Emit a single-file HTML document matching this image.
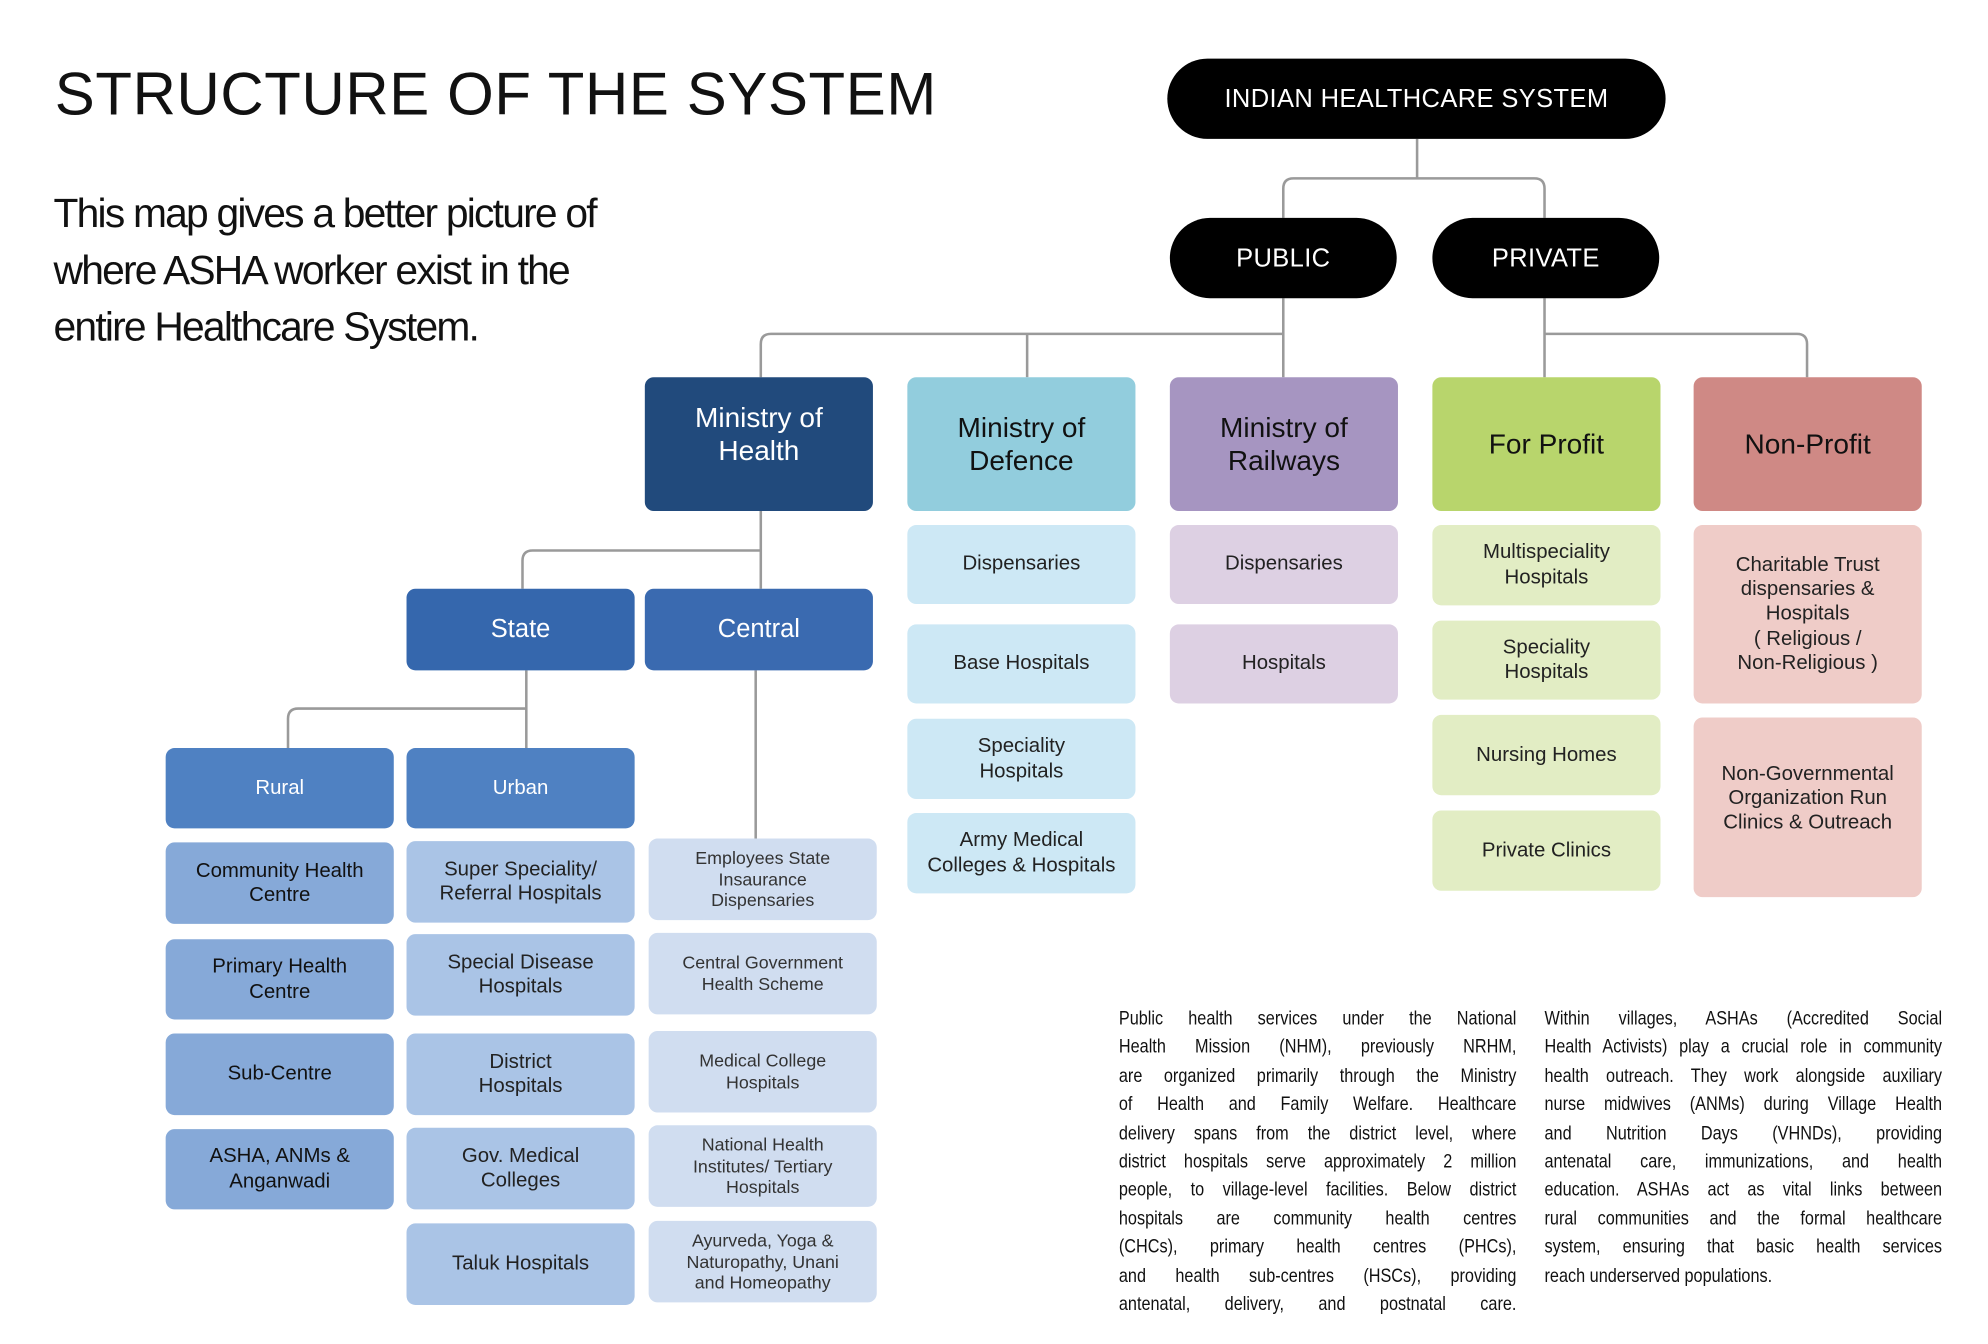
<!DOCTYPE html>
<html><head><meta charset="utf-8"><style>
html,body{margin:0;padding:0;background:#fff;}
body{width:1988px;height:1344px;overflow:hidden;position:relative;font-family:"Liberation Sans",Arial,sans-serif;}
#w{position:absolute;left:0;top:0;width:1560px;height:1055px;transform:scale(1.27436);transform-origin:0 0;}
.b{position:absolute;display:flex;align-items:center;justify-content:center;text-align:center;box-sizing:border-box;border-radius:7px;line-height:1.2;}
.blk{background:#000;color:#fff;border-radius:32px;font-size:20px;letter-spacing:0.3px;}
.l2{font-size:22px;line-height:1.18;}
.t{font-size:16px;color:#222;line-height:1.2;}
.s{font-size:14px;color:#333;line-height:1.2;}
.par{position:absolute;top:789px;width:367px;transform:scaleX(0.85);transform-origin:0 0;font-size:15px;line-height:22.4px;color:#111;}
.par div{text-align:justify;text-align-last:justify;white-space:nowrap;}
</style></head><body><div id="w">
<div style="position:absolute;left:43px;top:46px;font-size:47px;color:#111;letter-spacing:0.5px;white-space:nowrap;">STRUCTURE OF THE SYSTEM</div>
<div style="position:absolute;left:42px;top:145px;font-size:32px;line-height:44.6px;color:#111;letter-spacing:-1.4px;white-space:nowrap;">This map gives a better picture of<br>where ASHA worker exist in the<br>entire Healthcare System.</div>

<svg style="position:absolute;left:0;top:0" width="1560" height="1055" fill="none" stroke="#9a9a9a" stroke-width="2">
<path d="M1112 109V140"/>
<path d="M1007 171V148Q1007 140 1015 140H1204Q1212 140 1212 148V171"/>
<path d="M1007 234V296"/>
<path d="M597 296V270Q597 262 605 262H1007"/>
<path d="M806 262V296"/>
<path d="M1212 234V296"/>
<path d="M1212 262H1410Q1418 262 1418 270V296"/>
<path d="M597 401V462"/>
<path d="M410 462V440Q410 432 418 432H597"/>
<path d="M413 526V587"/>
<path d="M226 587V564Q226 556 234 556H413"/>
<path d="M593 526V658"/>
</svg>

<div class="b blk" style="left:916px;top:46px;width:391px;height:63px;">INDIAN HEALTHCARE SYSTEM</div>
<div class="b blk" style="left:918px;top:171px;width:178px;height:63px;">PUBLIC</div>
<div class="b blk" style="left:1124px;top:171px;width:178px;height:63px;">PRIVATE</div>

<div class="b l2" style="left:506px;top:296px;width:179px;height:105px;background:#214a7c;color:#fff;padding-bottom:16px;">Ministry of<br>Health</div>
<div class="b l2" style="left:712px;top:296px;width:179px;height:105px;background:#92cddd;color:#111;">Ministry of<br>Defence</div>
<div class="b l2" style="left:918px;top:296px;width:179px;height:105px;background:#a695c1;color:#111;">Ministry of<br>Railways</div>
<div class="b l2" style="left:1124px;top:296px;width:179px;height:105px;background:#b8d56c;color:#111;">For Profit</div>
<div class="b l2" style="left:1329px;top:296px;width:179px;height:105px;background:#cf8985;color:#111;">Non-Profit</div>

<div class="b t" style="left:712px;top:412px;width:179px;height:62px;background:#cde8f5;">Dispensaries</div>
<div class="b t" style="left:712px;top:490px;width:179px;height:62px;background:#cde8f5;">Base Hospitals</div>
<div class="b t" style="left:712px;top:564px;width:179px;height:63px;background:#cde8f5;">Speciality<br>Hospitals</div>
<div class="b t" style="left:712px;top:638px;width:179px;height:63px;background:#cde8f5;">Army Medical<br>Colleges &amp; Hospitals</div>

<div class="b t" style="left:918px;top:412px;width:179px;height:62px;background:#ddd0e3;">Dispensaries</div>
<div class="b t" style="left:918px;top:490px;width:179px;height:62px;background:#ddd0e3;">Hospitals</div>

<div class="b t" style="left:1124px;top:412px;width:179px;height:63px;background:#e2edc4;">Multispeciality<br>Hospitals</div>
<div class="b t" style="left:1124px;top:487px;width:179px;height:62px;background:#e2edc4;">Speciality<br>Hospitals</div>
<div class="b t" style="left:1124px;top:561px;width:179px;height:63px;background:#e2edc4;">Nursing Homes</div>
<div class="b t" style="left:1124px;top:636px;width:179px;height:63px;background:#e2edc4;">Private Clinics</div>

<div class="b t" style="left:1329px;top:412px;width:179px;height:140px;background:#efccc8;">Charitable Trust<br>dispensaries &amp;<br>Hospitals<br>( Religious /<br>Non-Religious )</div>
<div class="b t" style="left:1329px;top:563px;width:179px;height:141px;background:#efccc8;padding-bottom:14px;">Non-Governmental<br>Organization Run<br>Clinics &amp; Outreach</div>

<div class="b" style="left:319px;top:462px;width:179px;height:64px;background:#3567ad;color:#fff;font-size:20px;">State</div>
<div class="b" style="left:506px;top:462px;width:179px;height:64px;background:#3a6ab0;color:#fff;font-size:20px;">Central</div>
<div class="b" style="left:130px;top:587px;width:179px;height:63px;background:#4f81c2;color:#fff;font-size:16px;">Rural</div>
<div class="b" style="left:319px;top:587px;width:179px;height:63px;background:#4f81c2;color:#fff;font-size:16px;">Urban</div>

<div class="b t" style="left:130px;top:661px;width:179px;height:64px;background:#86a9d8;color:#111;">Community Health<br>Centre</div>
<div class="b t" style="left:130px;top:737px;width:179px;height:63px;background:#86a9d8;color:#111;">Primary Health<br>Centre</div>
<div class="b t" style="left:130px;top:811px;width:179px;height:64px;background:#86a9d8;color:#111;">Sub-Centre</div>
<div class="b t" style="left:130px;top:886px;width:179px;height:63px;background:#86a9d8;color:#111;">ASHA, ANMs &amp;<br>Anganwadi</div>

<div class="b t" style="left:319px;top:660px;width:179px;height:64px;background:#aac4e6;">Super Speciality/<br>Referral Hospitals</div>
<div class="b t" style="left:319px;top:733px;width:179px;height:64px;background:#aac4e6;">Special Disease<br>Hospitals</div>
<div class="b t" style="left:319px;top:811px;width:179px;height:64px;background:#aac4e6;">District<br>Hospitals</div>
<div class="b t" style="left:319px;top:885px;width:179px;height:64px;background:#aac4e6;">Gov. Medical<br>Colleges</div>
<div class="b t" style="left:319px;top:960px;width:179px;height:64px;background:#aac4e6;">Taluk Hospitals</div>

<div class="b s" style="left:509px;top:658px;width:179px;height:64px;background:#d0ddf0;">Employees State<br>Insaurance<br>Dispensaries</div>
<div class="b s" style="left:509px;top:732px;width:179px;height:64px;background:#d0ddf0;">Central Government<br>Health Scheme</div>
<div class="b s" style="left:509px;top:809px;width:179px;height:64px;background:#d0ddf0;">Medical College<br>Hospitals</div>
<div class="b s" style="left:509px;top:883px;width:179px;height:64px;background:#d0ddf0;">National Health<br>Institutes/ Tertiary<br>Hospitals</div>
<div class="b s" style="left:509px;top:958px;width:179px;height:64px;background:#d0ddf0;">Ayurveda, Yoga &amp;<br>Naturopathy, Unani<br>and Homeopathy</div>

<div class="par" style="left:878px;">
<div>Public health services under the National</div>
<div>Health Mission (NHM), previously NRHM,</div>
<div>are organized primarily through the Ministry</div>
<div>of Health and Family Welfare. Healthcare</div>
<div>delivery spans from the district level, where</div>
<div>district hospitals serve approximately 2 million</div>
<div>people, to village-level facilities. Below district</div>
<div>hospitals are community health centres</div>
<div>(CHCs), primary health centres (PHCs),</div>
<div>and health sub-centres (HSCs), providing</div>
<div>antenatal, delivery, and postnatal care.</div>
</div>
<div class="par" style="left:1212px;">
<div>Within villages, ASHAs (Accredited Social</div>
<div>Health Activists) play a crucial role in community</div>
<div>health outreach. They work alongside auxiliary</div>
<div>nurse midwives (ANMs) during Village Health</div>
<div>and Nutrition Days (VHNDs), providing</div>
<div>antenatal care, immunizations, and health</div>
<div>education. ASHAs act as vital links between</div>
<div>rural communities and the formal healthcare</div>
<div>system, ensuring that basic health services</div>
<div style="text-align-last:left;">reach underserved populations.</div>
</div>
</div></body></html>
